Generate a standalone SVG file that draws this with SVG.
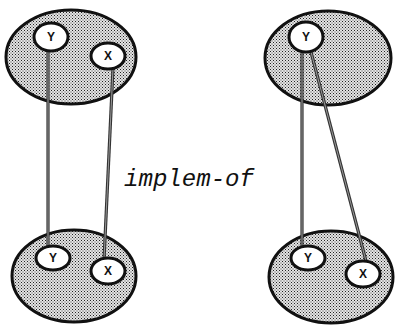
<svg xmlns="http://www.w3.org/2000/svg" width="397" height="327" viewBox="0 0 397 327">
<defs>
<pattern id="dots" width="3" height="3" patternUnits="userSpaceOnUse">
<rect width="3" height="3" fill="#e4e4e4"/>
<rect x="0" y="0" width="1" height="1" fill="#222"/>
<rect x="1.5" y="1.5" width="1" height="1" fill="#444"/>
</pattern>
</defs>
<style>
.big{fill:url(#dots);stroke:#111;stroke-width:3}
.small{fill:#fff;stroke:#111;stroke-width:3}
.lbl{font-family:"Liberation Sans",Arial,sans-serif;font-size:12px;font-weight:bold;fill:#111;text-anchor:middle}
.conn{stroke:#333;stroke-width:3.2;fill:none}
.conn2{stroke:#999;stroke-width:1;fill:none}
.title{font-family:"Liberation Mono","Courier New",monospace;font-style:italic;font-size:24px;fill:#111}
</style>
<g id="set-top-left"><ellipse class="big" cx="71" cy="57" rx="65" ry="47"/></g>
<g id="set-bottom-left"><ellipse class="big" cx="74" cy="276" rx="62" ry="46"/></g>
<g id="set-top-right"><ellipse class="big" cx="328" cy="58" rx="63" ry="47"/></g>
<g id="set-bottom-right"><ellipse class="big" cx="331" cy="277" rx="62" ry="46"/></g>
<g id="connectors">
<line class="conn" x1="48" y1="51" x2="48" y2="246"/>
<line class="conn2" x1="48" y1="51" x2="48" y2="246"/>
<line class="conn" x1="113" y1="68" x2="104" y2="260"/>
<line class="conn2" x1="113" y1="68" x2="104" y2="260"/>
<line class="conn" x1="302" y1="52" x2="302" y2="246"/>
<line class="conn2" x1="302" y1="52" x2="302" y2="246"/>
<line class="conn" x1="311" y1="52" x2="366" y2="261"/>
<line class="conn2" x1="311" y1="52" x2="366" y2="261"/>
</g>
<g id="tl-Y"><ellipse class="small" cx="51" cy="37" rx="17" ry="14"/><text class="lbl" x="51" y="41">Y</text></g>
<g id="tl-X"><ellipse class="small" cx="108" cy="56" rx="17" ry="13"/><text class="lbl" x="108" y="60">X</text></g>
<g id="bl-Y"><ellipse class="small" cx="53" cy="258" rx="17" ry="12"/><text class="lbl" x="53" y="262">Y</text></g>
<g id="bl-X"><ellipse class="small" cx="108" cy="271" rx="17" ry="13"/><text class="lbl" x="108" y="275">X</text></g>
<g id="tr-Y"><ellipse class="small" cx="306" cy="37" rx="17" ry="15"/><text class="lbl" x="306" y="41">Y</text></g>
<g id="br-Y"><ellipse class="small" cx="308" cy="258" rx="17" ry="12"/><text class="lbl" x="308" y="262">Y</text></g>
<g id="br-X"><ellipse class="small" cx="363" cy="274" rx="17" ry="13"/><text class="lbl" x="363" y="278">X</text></g>
<text class="title" x="124" y="186" textLength="130" lengthAdjust="spacingAndGlyphs">implem-of</text>
</svg>
